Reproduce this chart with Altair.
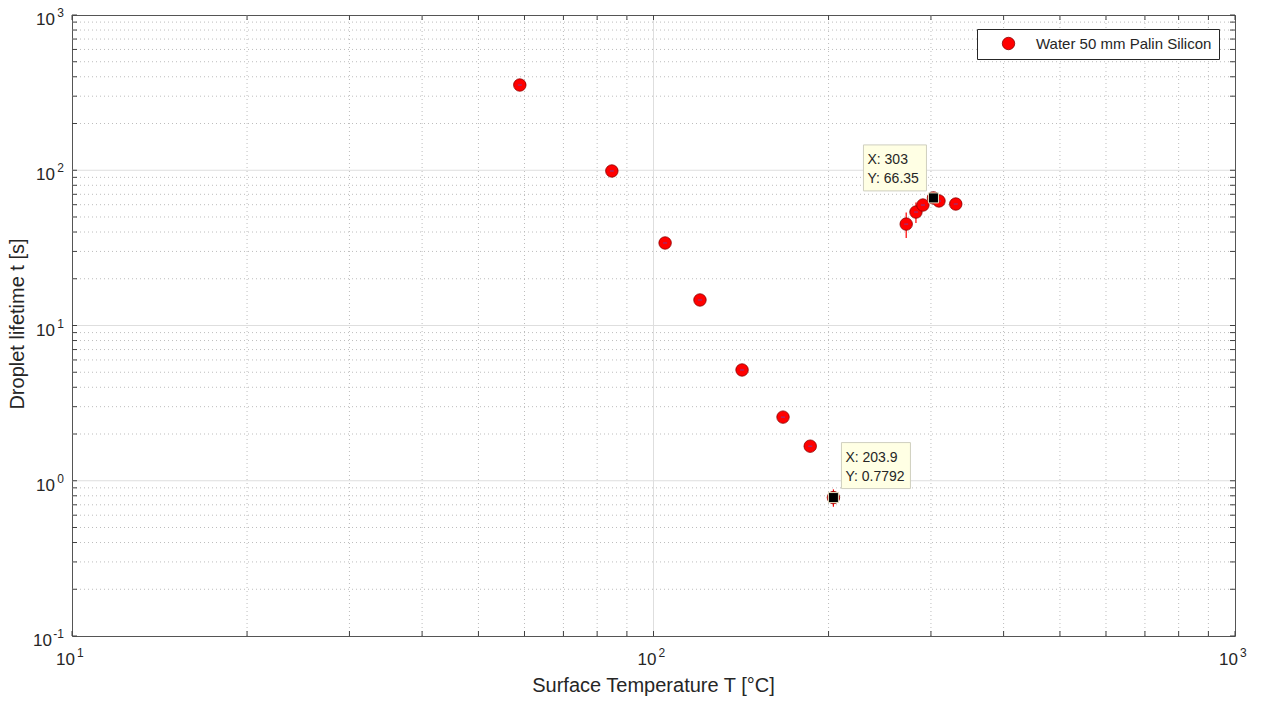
import altair as alt
import pandas as pd

# ---------------- data ----------------
series_name = "Water 50 mm Palin Silicon"
temps = [58.9, 84.8, 104.7, 120.2, 142.0, 167.0, 186.0, 203.9, 272.0, 282.7, 290.6, 303.0, 309.7, 331.0]
lifetimes = [354.0, 98.9, 34.0, 14.6, 5.17, 2.57, 1.67, 0.7792, 45.0, 53.8, 59.7, 66.35, 63.4, 60.6]
err_low = [354.0, 98.9, 34.0, 14.6, 5.17, 2.57, 1.67, 0.68, 36.6, 45.7, 59.7, 66.35, 63.4, 60.6]
err_high = [354.0, 98.9, 34.0, 14.6, 5.17, 2.57, 1.67, 0.88, 53.4, 62.0, 59.7, 66.35, 63.4, 60.6]

tip_T = [303.0, 203.9]
tip_t = [66.35, 0.7792]
tip_x_text = ["X: 303", "X: 203.9"]
tip_y_text = ["Y: 66.35", "Y: 0.7792"]

x_major = [10, 100, 1000]
x_exp = ["1", "2", "3"]
y_major = [0.1, 1, 10, 100, 1000]
y_exp = ["-1", "0", "1", "2", "3"]

x_title = "Surface Temperature T [°C]"
y_title = "Droplet lifetime t [s]"

# ---------------- layout constants ----------------
W, H = 1163, 621
FONT = "Liberation Sans"
TXT = "#262626"
TICK_LEN = 5

x_ticks_all = [m * d for d in [10, 100] for m in range(1, 10)] + [1000]
y_ticks_all = [m * d for d in [0.1, 1, 10, 100] for m in range(1, 10)] + [1000]
x_minor = [v for v in x_ticks_all if v not in x_major]
y_minor = [v for v in y_ticks_all if v not in y_major]
x_grid_major = [v for v in x_major if v not in (10, 1000)]
y_grid_major = [v for v in y_major if v not in (0.1, 1000)]

xs = alt.Scale(type="log", domain=[10, 1000], nice=False)
ys = alt.Scale(type="log", domain=[0.1, 1000], nice=False)


def X(field="v"):
    return alt.X(f"{field}:Q", scale=xs, axis=None)


def Y(field="v"):
    return alt.Y(f"{field}:Q", scale=ys, axis=None)


pts = pd.DataFrame({"T": temps, "t": lifetimes, "lo": err_low, "hi": err_high,
                    "series": [series_name] * len(temps)})
tips = pd.DataFrame({"T": tip_T, "t": tip_t, "xt": tip_x_text, "yt": tip_y_text})

# grid lines
vgrid_minor = alt.Chart(pd.DataFrame({"v": x_minor})).mark_rule(
    color="#bdbdbd", strokeDash=[1, 3], strokeWidth=1
).encode(x=X(), y=alt.value(0), y2=alt.value(H))
hgrid_minor = alt.Chart(pd.DataFrame({"v": y_minor})).mark_rule(
    color="#bdbdbd", strokeDash=[1, 3], strokeWidth=1
).encode(y=Y(), x=alt.value(0), x2=alt.value(W))
vgrid_major = alt.Chart(pd.DataFrame({"v": x_grid_major})).mark_rule(
    color="#dedede", strokeWidth=1
).encode(x=X(), y=alt.value(0), y2=alt.value(H))
hgrid_major = alt.Chart(pd.DataFrame({"v": y_grid_major})).mark_rule(
    color="#dedede", strokeWidth=1
).encode(y=Y(), x=alt.value(0), x2=alt.value(W))

# tick marks (inward, all four sides)
tick_color = "#404040"
xt_df = pd.DataFrame({"v": x_ticks_all})
yt_df = pd.DataFrame({"v": y_ticks_all})
ticks_bottom = alt.Chart(xt_df).mark_rule(color=tick_color).encode(
    x=X(), y=alt.value(H), y2=alt.value(H - TICK_LEN))
ticks_top = alt.Chart(xt_df).mark_rule(color=tick_color).encode(
    x=X(), y=alt.value(0), y2=alt.value(TICK_LEN))
ticks_left = alt.Chart(yt_df).mark_rule(color=tick_color).encode(
    y=Y(), x=alt.value(0), x2=alt.value(TICK_LEN))
ticks_right = alt.Chart(yt_df).mark_rule(color=tick_color).encode(
    y=Y(), x=alt.value(W), x2=alt.value(W - TICK_LEN))

# error bars
errbars = alt.Chart(pts).mark_rule(color="#ff0000", strokeWidth=1.2).encode(
    x=X("T"), y=Y("lo"), y2="hi")

# data points
points = alt.Chart(pts).mark_point(
    shape="circle", filled=True, size=155, opacity=1,
    stroke="#8a0000", strokeWidth=0.8
).encode(
    x=X("T"), y=Y("t"),
    fill=alt.Fill("series:N", scale=alt.Scale(domain=[series_name], range=["#ff0000"]),
                  legend=alt.Legend(
                      title=None, orient="none", legendX=905, legendY=14,
                      padding=7, strokeColor="#262626", fillColor="white",
                      cornerRadius=0, symbolType="circle", symbolSize=155,
                      symbolStrokeColor="#8a0000", symbolStrokeWidth=0.8,
                      symbolOffset=17, labelOffset=20, labelFontSize=15,
                      labelFont=FONT, labelColor=TXT, labelLimit=400)),
)
centers = alt.Chart(pts).mark_tick(orient="horizontal", size=4, thickness=1,
                                   color="#5050d0").encode(x=X("T"), y=Y("t"))

# data tips
tip_sq = alt.Chart(tips).mark_square(size=100, filled=True, color="black",
                                     stroke="#e6dfc0", strokeWidth=1, opacity=1).encode(
    x=X("T"), y=Y("t"))
tip0 = tips.iloc[[0]]
tip1 = tips.iloc[[1]]
box0 = alt.Chart(tip0).mark_rect(fill="#ffffe4", stroke="#cfcfbf", strokeWidth=1,
                                 xOffset=-70, x2Offset=-7, yOffset=-53, y2Offset=-7).encode(
    x=X("T"), x2="T", y=Y("t"), y2="t")
box1 = alt.Chart(tip1).mark_rect(fill="#ffffe4", stroke="#cfcfbf", strokeWidth=1,
                                 xOffset=8, x2Offset=77, yOffset=-55, y2Offset=-9).encode(
    x=X("T"), x2="T", y=Y("t"), y2="t")
tip_font = dict(font=FONT, fontSize=14, color=TXT, align="left", baseline="alphabetic")
t0a = alt.Chart(tip0).mark_text(dx=-66, dy=-34, **tip_font).encode(x=X("T"), y=Y("t"), text="xt:N")
t0b = alt.Chart(tip0).mark_text(dx=-66, dy=-15, **tip_font).encode(x=X("T"), y=Y("t"), text="yt:N")
t1a = alt.Chart(tip1).mark_text(dx=12, dy=-36, **tip_font).encode(x=X("T"), y=Y("t"), text="xt:N")
t1b = alt.Chart(tip1).mark_text(dx=12, dy=-17, **tip_font).encode(x=X("T"), y=Y("t"), text="yt:N")

# tick labels (10 with superscript exponent)
xl_df = pd.DataFrame({"v": x_major, "e": x_exp, "base": ["10"] * len(x_major)})
yl_df = pd.DataFrame({"v": y_major, "e": y_exp, "base": ["10"] * len(y_major)})
lab = dict(font=FONT, color=TXT, baseline="alphabetic")
xl_base = alt.Chart(xl_df).mark_text(fontSize=17, align="right", dx=3, **lab).encode(
    x=X(), y=alt.value(H + 29), text="base:N")
xl_exp = alt.Chart(xl_df).mark_text(fontSize=12, align="left", dx=5, **lab).encode(
    x=X(), y=alt.value(H + 21), text="e:N")
yl_base1 = alt.Chart(yl_df).transform_filter("length(datum.e) == 1").mark_text(
    fontSize=17, align="right", dy=10, **lab).encode(x=alt.value(-17), y=Y(), text="base:N")
yl_base2 = alt.Chart(yl_df).transform_filter("length(datum.e) == 2").mark_text(
    fontSize=17, align="right", dy=10, **lab).encode(x=alt.value(-20), y=Y(), text="base:N")
yl_exp = alt.Chart(yl_df).mark_text(fontSize=12, align="right", dy=2, **lab).encode(
    x=alt.value(-8), y=Y(), text="e:N")

# axis titles
xtitle = alt.Chart(pd.DataFrame({"s": [x_title]})).mark_text(
    font=FONT, fontSize=20, color=TXT, align="center", baseline="alphabetic").encode(
    x=alt.value(W / 2), y=alt.value(677), text="s:N")
ytitle = alt.Chart(pd.DataFrame({"s": [y_title]})).mark_text(
    font=FONT, fontSize=20, color=TXT, align="center", baseline="alphabetic", angle=270).encode(
    x=alt.value(-48), y=alt.value(309), text="s:N")

chart = alt.layer(
    vgrid_minor, hgrid_minor, vgrid_major, hgrid_major,
    errbars, points, centers, tip_sq,
    box0, box1, t0a, t0b, t1a, t1b,
    ticks_bottom, ticks_top, ticks_left, ticks_right,
    xl_base, xl_exp, yl_base1, yl_base2, yl_exp,
    xtitle, ytitle,
).properties(
    width=W, height=H, autosize="none",
    padding={"left": 72, "top": 15, "right": 29, "bottom": 66},
    background="white",
).configure_view(stroke="#555555", strokeWidth=1)

chart.save("out.html", embed_options={"renderer": "svg", "actions": False})
